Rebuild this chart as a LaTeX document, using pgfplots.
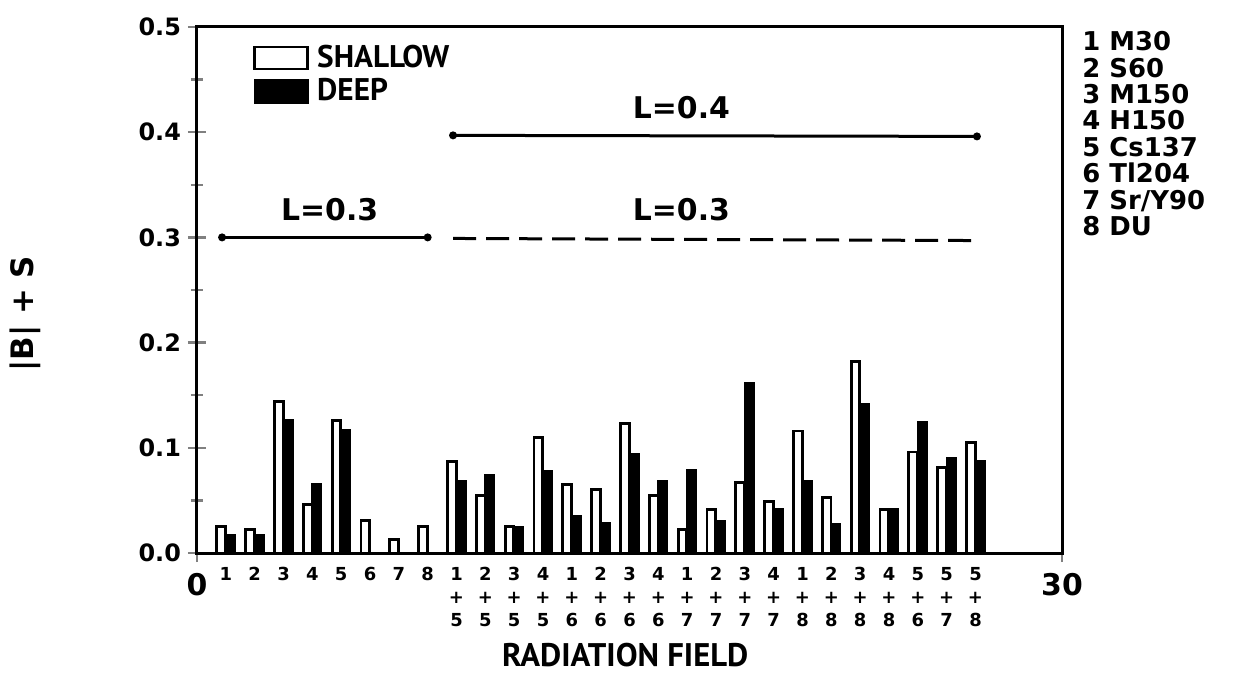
\documentclass[border=0pt]{standalone}
\usepackage{fontspec}
\setmainfont{PT Sans}
\newfontfamily\nf{DejaVu Sans}
\usepackage{pgfplots}
\usepackage{pgfplotstable}
\pgfplotsset{compat=1.18}

\pgfplotstableread{
x s d
1 0.025 0.017
2 0.022 0.017
3 0.144 0.126
4 0.046 0.065
5 0.126 0.117
6 0.031 nan
7 0.013 nan
8 0.025 nan
9 0.087 0.068
10 0.055 0.074
11 0.025 0.025
12 0.110 0.078
13 0.065 0.035
14 0.060 0.028
15 0.123 0.094
16 0.055 0.068
17 0.022 0.079
18 0.041 0.030
19 0.067 0.161
20 0.049 0.042
21 0.116 0.068
22 0.053 0.027
23 0.182 0.141
24 0.041 0.042
25 0.096 0.124
26 0.081 0.090
27 0.105 0.087
}\data

\newcommand{\cf}{\fontsize{9}{11.7}\selectfont\nf\bfseries}
\newcommand{\cl}[2]{\cf #1\\\cf +\\\cf #2}
\begin{document}
\begin{tikzpicture}
\useasboundingbox (-98.5bp,-60.5bp) rectangle (521bp,276.5bp);
\begin{axis}[
  scale only axis, clip=false,
  width=432.5bp, height=263bp,
  xmin=0, xmax=30, ymin=0, ymax=0.5,
  axis line style={line width=1.5bp},
  xtick={0,30},
  xticklabels={{\fontsize{15}{15}\selectfont\nf\bfseries 0},{\fontsize{15}{15}\selectfont\nf\bfseries 30}},
  xtick pos=bottom, ytick pos=left,
  xtick style={line width=1.2bp},
  x tick label style={align=center, yshift=-2bp},
  extra x ticks={1,2,...,27},
  extra x tick labels={{\cf 1},{\cf 2},{\cf 3},{\cf 4},{\cf 5},{\cf 6},{\cf 7},{\cf 8},{\cl{1}{5}},{\cl{2}{5}},{\cl{3}{5}},{\cl{4}{5}},{\cl{1}{6}},{\cl{2}{6}},{\cl{3}{6}},{\cl{4}{6}},{\cl{1}{7}},{\cl{2}{7}},{\cl{3}{7}},{\cl{4}{7}},{\cl{1}{8}},{\cl{2}{8}},{\cl{3}{8}},{\cl{4}{8}},{\cl{5}{6}},{\cl{5}{7}},{\cl{5}{8}}},
  extra x tick style={major tick length=0pt, tick label style={anchor=north, align=center, yshift=-1.5bp, font=\cf}},
  ytick={0,0.1,0.2,0.3,0.4,0.5},
  yticklabels={0.0,0.1,0.2,0.3,0.4,0.5},
  minor y tick num=1,
  ytick style={line width=1.2bp},
  tick align=center,
  major tick length=9bp, minor tick length=6bp,
  y tick label style={font=\fontsize{12}{12}\selectfont\nf\bfseries},
  /pgf/number format/assume math mode=true,
  xlabel={RADIATION FIELD},
  xlabel style={at={(rel axis cs:0.495,0)}, anchor=center, yshift=-51bp, font=\fontsize{16.4}{16.4}\selectfont\bfseries},
  ylabel={|B| + S},
  ylabel style={at={(rel axis cs:0,0.455)}, anchor=center, yshift=86bp, font=\fontsize{15.5}{15.5}\selectfont\nf\bfseries},
  legend style={at={(rel axis cs:0,1)}, anchor=north west, xshift=28bp, yshift=-9bp, draw=none, fill=none, inner sep=0pt, row sep=4bp, font=\fontsize{15.7}{15.7}\selectfont\bfseries, nodes={inner sep=0pt}, /tikz/every odd column/.append style={column sep=4bp}},
  legend cell align=left,
]
\addplot[ybar, bar width=0.3, bar shift=-0.16, draw=black, fill=white, line width=1.4bp,
  legend image code/.code={\draw[black, fill=white, line width=1.4bp] (0bp,-5.5bp) rectangle (26.5bp,5.5bp);}]
  table[x=x, y=s] {\data};
\addlegendentry{SHALLOW}
\addplot[ybar, bar width=0.3, bar shift=0.16, draw=black, fill=black, line width=1.2bp,
  legend image code/.code={\draw[black, fill=black, line width=1.2bp] (0bp,-5.5bp) rectangle (26.5bp,5.5bp);}]
  table[x=x, y=d] {\data};
\addlegendentry{DEEP}
\addplot[black, line width=1.5bp, mark=*, mark size=1.2bp, forget plot] coordinates {(0.87,0.3) (8.0,0.3)};
\addplot[black, line width=1.5bp, mark=*, mark size=1.2bp, forget plot] coordinates {(8.88,0.397) (27.05,0.396)};
\addplot[black, line width=1.5bp, dash pattern=on 11.5bp off 5bp, forget plot] coordinates {(8.88,0.299) (27.05,0.297)};
\node[font=\fontsize{15}{15}\selectfont\nf\bfseries] at (axis cs:4.6,0.326) {L=0.3};
\node[font=\fontsize{15}{15}\selectfont\nf\bfseries] at (axis cs:16.8,0.423) {L=0.4};
\node[font=\fontsize{15}{15}\selectfont\nf\bfseries] at (axis cs:16.8,0.326) {L=0.3};
\node[anchor=north west, align=left, inner sep=0pt, font=\fontsize{13}{13.25}\selectfont\nf\bfseries] at (rel axis cs:1,1) [xshift=10bp, yshift=-2bp] {1 M30\\2 S60\\3 M150\\4 H150\\5 Cs137\\6 Tl204\\7 Sr/Y90\\8 DU};
\end{axis}
\end{tikzpicture}
\end{document}
